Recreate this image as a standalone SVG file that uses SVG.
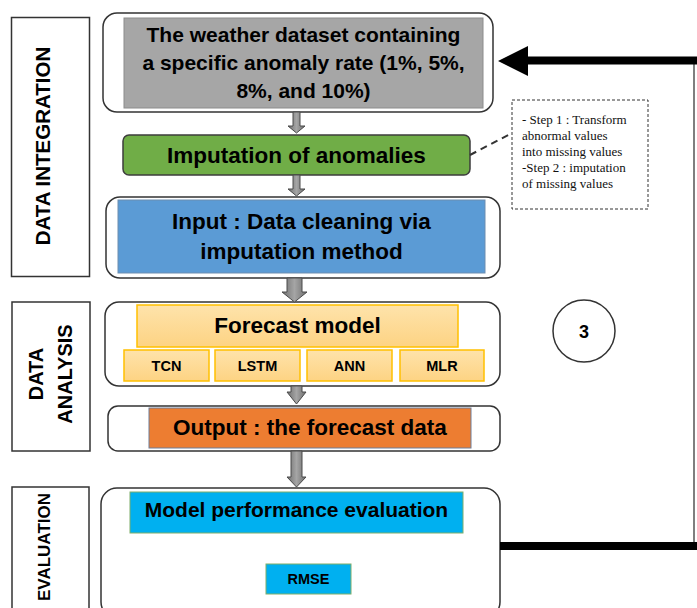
<svg xmlns="http://www.w3.org/2000/svg" width="697" height="608" viewBox="0 0 697 608">
  <defs>
    <linearGradient id="arrowGrad" x1="0" y1="0" x2="1" y2="0">
      <stop offset="0" stop-color="#6e6e6e"/>
      <stop offset="0.5" stop-color="#a5a5a5"/>
      <stop offset="1" stop-color="#6e6e6e"/>
    </linearGradient>
    <linearGradient id="goldGrad" x1="0" y1="0" x2="0" y2="1">
      <stop offset="0" stop-color="#fee3ab"/>
      <stop offset="1" stop-color="#fdd383"/>
    </linearGradient>
    <style>
      .outer { fill: #ffffff; stroke: #333333; stroke-width: 1.5; }
      .label { fill: #ffffff; stroke: #333333; stroke-width: 1.5; }
      .ltxt { font-family: "Liberation Sans", Arial, sans-serif; font-weight: bold; fill: #000; text-anchor: middle; }
      .ntxt { font-family: "Liberation Sans", Arial, sans-serif; font-weight: bold; fill: #000; text-anchor: middle; }
      .stxt { font-family: "Liberation Sans", Arial, sans-serif; font-weight: bold; font-size: 14.5px; fill: #000; text-anchor: middle; }
      .ctxt { font-family: "Liberation Serif", "Times New Roman", serif; font-size: 13px; fill: #111; }
      .gold { fill: url(#goldGrad); stroke: #ffc000; stroke-width: 1.5; }
      .arr { fill: url(#arrowGrad); stroke: #4a4a4a; stroke-width: 1; }
    </style>
  </defs>

  <!-- Section labels -->
  <g id="label-integration">
    <rect class="label" x="11.5" y="17.5" width="78" height="259"/>
    <text class="ltxt" font-size="20.5" transform="translate(50,146) rotate(-90)">DATA INTEGRATION</text>
  </g>
  <g id="label-analysis">
    <rect class="label" x="12" y="302" width="78" height="149"/>
    <text class="ltxt" font-size="20" transform="translate(43,374) rotate(-90)">DATA</text>
    <text class="ltxt" font-size="20" transform="translate(72,374) rotate(-90)">ANALYSIS</text>
  </g>
  <g id="label-evaluation">
    <rect class="label" x="12" y="487" width="77" height="130"/>
    <text class="ltxt" font-size="17" transform="translate(50,547) rotate(-90)">EVALUATION</text>
  </g>

  <!-- Nodes -->
  <g id="node-dataset">
    <rect class="outer" x="103" y="13" width="390" height="99" rx="14"/>
    <rect x="124" y="18" width="359" height="90" fill="#a6a6a6" stroke="#8c8c8c" stroke-width="1"/>
    <text class="ntxt" font-size="21" x="303.5" y="42">The weather dataset containing</text>
    <text class="ntxt" font-size="21" x="303.5" y="70">a specific anomaly rate (1%, 5%,</text>
    <text class="ntxt" font-size="21" x="303.5" y="98">8%, and 10%)</text>
  </g>

  <g id="node-imputation">
    <rect x="123" y="135" width="347" height="40" rx="6" fill="#70ad47" stroke="#3d3d3d" stroke-width="1.5"/>
    <text class="ntxt" font-size="22.5" x="296.5" y="163">Imputation of anomalies</text>
  </g>

  <g id="node-note">
    <rect x="512" y="100" width="136" height="109" fill="#ffffff" stroke="#333333" stroke-width="1" stroke-dasharray="3 2"/>
    <text class="ctxt" x="522" y="124">- Step 1 : Transform</text>
    <text class="ctxt" x="522" y="140">abnormal values</text>
    <text class="ctxt" x="522" y="156">into missing values</text>
    <text class="ctxt" x="522" y="172">-Step 2 : imputation</text>
    <text class="ctxt" x="522" y="188">of missing values</text>
  </g>

  <g id="node-input">
    <rect class="outer" x="106" y="197" width="394" height="81" rx="14"/>
    <rect x="118" y="200" width="367" height="73" fill="#5b9bd5" stroke="#6d8db0" stroke-width="1"/>
    <text class="ntxt" font-size="22.5" x="301.5" y="229">Input : Data cleaning via</text>
    <text class="ntxt" font-size="22.5" x="301.5" y="259">imputation method</text>
  </g>

  <g id="node-forecast">
    <rect class="outer" x="105" y="302" width="395" height="84" rx="14"/>
    <rect class="gold" x="137" y="305" width="321" height="42"/>
    <text class="ntxt" font-size="22.5" x="297.5" y="333">Forecast model</text>
  </g>
  <g id="node-tcn">
    <rect class="gold" x="124" y="350" width="85" height="31"/>
    <text class="stxt" x="166.5" y="371">TCN</text>
  </g>
  <g id="node-lstm">
    <rect class="gold" x="215" y="350" width="85" height="31"/>
    <text class="stxt" x="257.5" y="371">LSTM</text>
  </g>
  <g id="node-ann">
    <rect class="gold" x="307" y="350" width="85" height="31"/>
    <text class="stxt" x="349.5" y="371">ANN</text>
  </g>
  <g id="node-mlr">
    <rect class="gold" x="400" y="350" width="84" height="31"/>
    <text class="stxt" x="442" y="371">MLR</text>
  </g>

  <g id="node-output">
    <rect class="outer" x="108" y="406" width="392" height="45" rx="10"/>
    <rect x="149" y="408" width="322" height="40" fill="#ed7d31" stroke="#6f7f99" stroke-width="1"/>
    <text class="ntxt" font-size="22.5" x="310" y="435">Output : the forecast data</text>
  </g>

  <g id="node-evaluation">
    <rect class="outer" x="101" y="488" width="399" height="130" rx="16"/>
    <rect x="130" y="492" width="333" height="41" fill="#00b0f0" stroke="#7fae6b" stroke-width="1"/>
    <text class="ntxt" font-size="21" x="296.5" y="517">Model performance evaluation</text>
  </g>
  <g id="node-rmse">
    <rect x="266" y="564" width="85" height="30" fill="#00b0f0" stroke="#7fae6b" stroke-width="1"/>
    <text class="stxt" x="308.5" y="584">RMSE</text>
  </g>

  <g id="node-step3">
    <circle cx="584" cy="331" r="31" fill="#ffffff" stroke="#333333" stroke-width="1.5"/>
    <text class="ntxt" font-size="18" x="584" y="338">3</text>
  </g>

  <!-- Connectors -->
  <g id="connectors">
    <!-- block arrows -->
    <polygon class="arr" points="293,112 300,112 300,126 305,126 296.5,133 288,126 293,126"/>
    <polygon class="arr" points="293,175 300,175 300,189 305,189 296.5,196 288,189 293,189"/>
    <polygon class="arr" points="287,278 302,278 302,292 307,292 294.5,302 282,292 287,292"/>
    <polygon class="arr" points="291,386 302,386 302,392 306,392 296.5,404 287,392 291,392"/>
    <polygon class="arr" points="291,451 302,451 302,477 306,477 296.5,487 287,477 291,477"/>
    <!-- dashed note connector -->
    <line x1="470" y1="155" x2="512" y2="133" stroke="#333333" stroke-width="2" stroke-dasharray="7 5"/>
    <!-- feedback loop -->
    <line x1="694" y1="60" x2="694" y2="546" stroke="#555555" stroke-width="1.5"/>
    <line x1="500" y1="546" x2="697" y2="546" stroke="#000000" stroke-width="8"/>
    <line x1="525" y1="60.5" x2="697" y2="60.5" stroke="#000000" stroke-width="8"/>
    <polygon points="498,61 528,46 528,76" fill="#000000"/>
  </g>
</svg>
